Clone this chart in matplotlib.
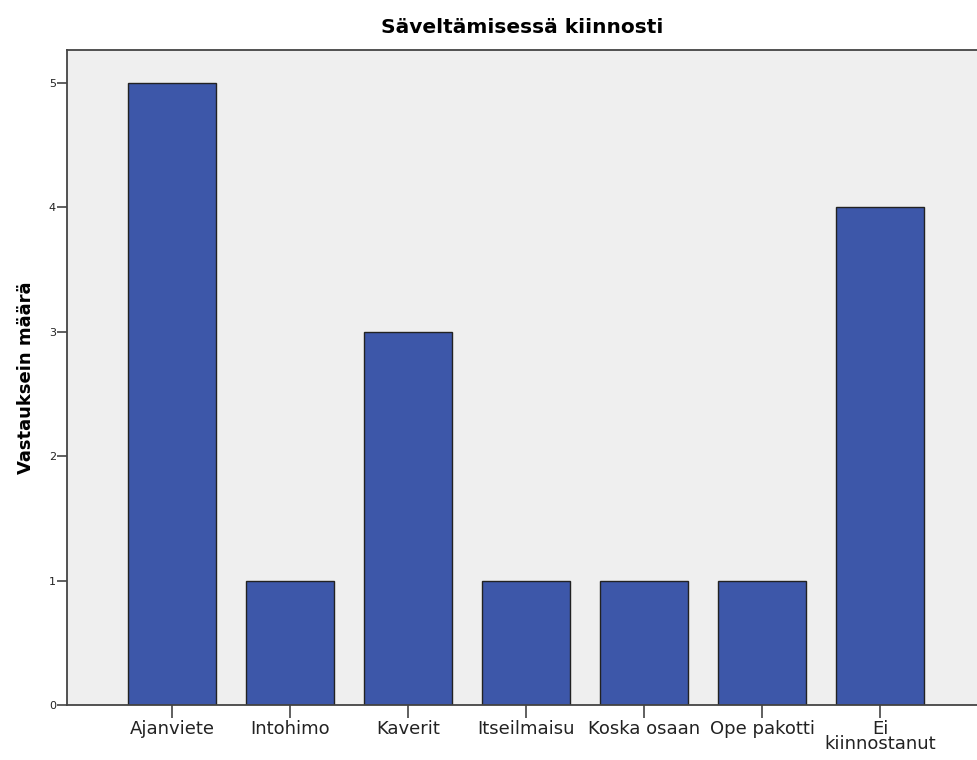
#!/usr/bin/env python3
"""Bar chart: Säveltämisessä kiinnosti."""

import matplotlib.pyplot as plt
import numpy as np

categories = ["Ajanviete", "Intohimo", "Kaverit", "Itseilmaisu",
              "Koska osaan", "Ope pakotti", "Ei\nkiinnostanut"]
counts = [5, 1, 3, 1, 1, 1, 4]
y_ticks = [0, 1, 2, 3, 4, 5]

plt.rcParams["font.family"] = ["DejaVu Sans"]

fig = plt.figure(figsize=(9.78, 7.6), dpi=100)
ax = fig.add_axes([0.0685, 0.0724, 0.9315, 0.8618])

x = np.arange(len(categories))
ax.bar(x, counts, width=0.75, color="#3d57a9", edgecolor="#222222", linewidth=1.0, zorder=2)

ax.set_facecolor("#efefef")
ax.set_xlim(-0.89, len(categories) - 0.17)
ax.set_ylim(0, 5.265)

ax.set_xticks(x)
ax.set_xticklabels(categories, fontsize=13, color="#222222", linespacing=0.85)
ax.set_yticks(y_ticks)
ax.tick_params(axis="y", labelsize=8, length=7, width=1.2, color="#444444", pad=1,
               labelcolor="#222222")
ax.tick_params(axis="x", length=9, width=1.2, color="#444444", pad=1.5)

for side in ["top", "left", "bottom"]:
    ax.spines[side].set_color("#444444")
    ax.spines[side].set_linewidth(1.3)
ax.spines["right"].set_visible(False)

ax.set_ylabel("Vastauksein määrä", fontsize=13, fontweight="bold", labelpad=10)
ax.set_title("Säveltämisessä kiinnosti", fontsize=14.5, fontweight="bold", pad=12)

fig.savefig("out.png", dpi=100)
plt.close(fig)
